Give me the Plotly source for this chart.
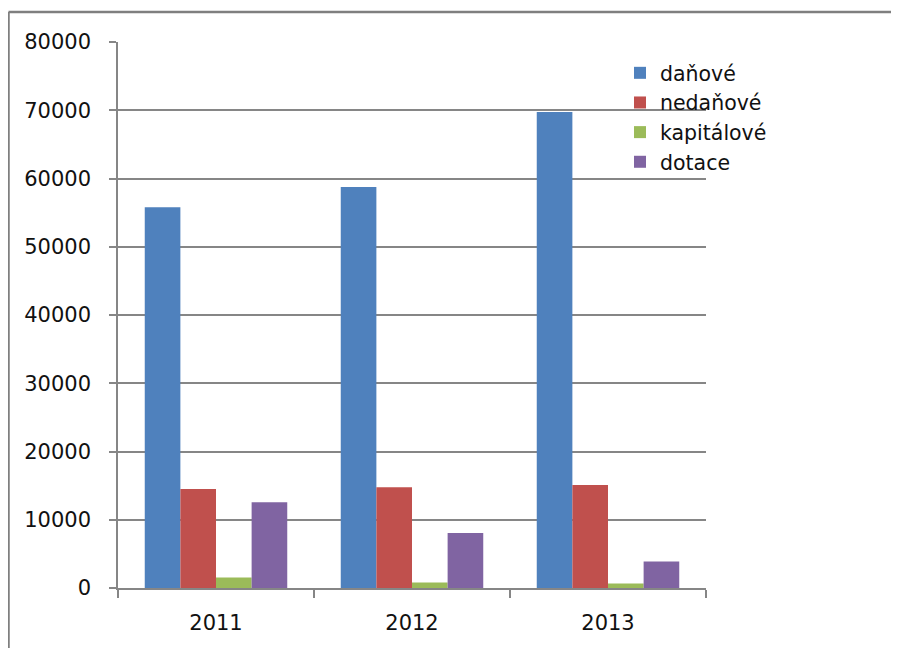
import plotly.graph_objects as go

years = ["2011", "2012", "2013"]
series_names = ["daňové", "nedaňové", "kapitálové", "dotace"]
danove = [55800, 58750, 69750]
nedanove = [14500, 14750, 15080]
kapitalove = [1550, 800, 650]
dotace = [12550, 8050, 3900]
colors = ["#4F81BD", "#C0504D", "#9BBB59", "#8064A2"]
y_ticks = [0, 10000, 20000, 30000, 40000, 50000, 60000, 70000, 80000]

OFF = 8  # page body margin
W, H = 899 - OFF, 648 - OFF
L, R, T, B = 118 - OFF, 193, 42 - OFF, 60

fig = go.Figure()
for name, vals, col in zip(series_names, [danove, nedanove, kapitalove, dotace], colors):
    fig.add_trace(go.Bar(x=years, y=vals, name=name, marker=dict(color=col, line=dict(width=0))))

font = dict(family="DejaVu Sans", size=21, color="#111111")
lfont = dict(family="DejaVu Sans", size=20.5, color="#111111")

pw, ph = W - L - R, H - T - B

fig.update_layout(
    width=W, height=H,
    margin=dict(l=L, r=R, t=T, b=B, autoexpand=False),
    paper_bgcolor="white", plot_bgcolor="white",
    barmode="group", bargap=0.273, bargroupgap=0,
    font=font,
    showlegend=True,
    legend=dict(x=(620 - OFF - L) / pw, y=(H - B - (53 - OFF)) / ph,
                xanchor="left", yanchor="top", font=lfont,
                bgcolor="rgba(0,0,0,0)", tracegroupgap=0, itemwidth=30),
    xaxis=dict(showline=True, linecolor="#868686", linewidth=1.5,
               ticks="outside", tickson="boundaries", ticklen=8, tickcolor="#868686", tickwidth=1.5,
               showgrid=False, tickfont=font, ticklabelstandoff=15),
    yaxis=dict(range=[0, 80000], tickvals=y_ticks, ticktext=[str(v) for v in y_ticks],
               showline=True, linecolor="#868686", linewidth=1.5,
               ticks="outside", ticklen=7, tickcolor="#868686", tickwidth=1.5,
               showgrid=True, gridcolor="#868686", gridwidth=1.5, zeroline=False,
               tickfont=font, ticklabelstandoff=14),
)

# outer frame (top and left edges visible in the reference)
fx0 = (8 - OFF + 0.5 - L) / pw
fy1 = (H - B - (12 - OFF)) / ph
fig.add_shape(type="line", xref="paper", yref="paper", x0=fx0, x1=(W + 10 - L) / pw, y0=fy1, y1=fy1,
              line=dict(color="#7f7f7f", width=2.5))
fig.add_shape(type="line", xref="paper", yref="paper", x0=fx0, x1=fx0, y0=fy1, y1=-(B + 10) / ph,
              line=dict(color="#7f7f7f", width=2.5))

fig.write_html("out.html")
